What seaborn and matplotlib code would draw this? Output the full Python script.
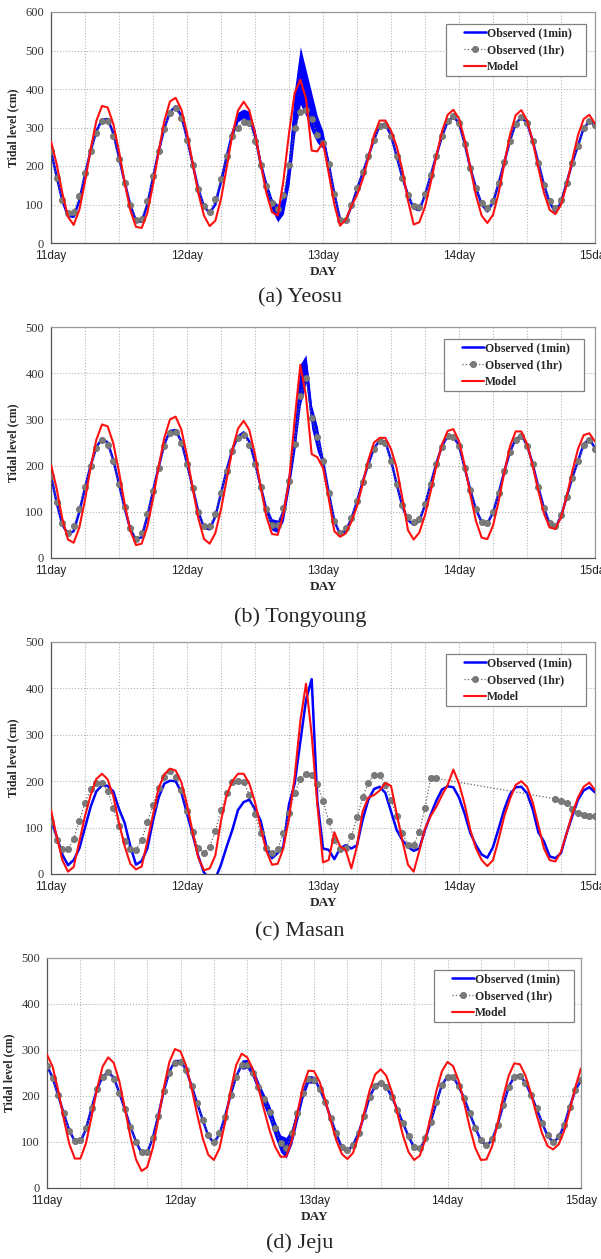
import numpy as np
import pandas as pd
import matplotlib
matplotlib.use('Agg')
import matplotlib.pyplot as plt
import seaborn as sns
from matplotlib.ticker import FixedLocator, MultipleLocator
from matplotlib.legend_handler import HandlerLine2D

sns.set_theme(style='white')
plt.rcParams['font.family'] = ['Liberation Serif', 'DejaVu Serif']

nan = np.nan
hours = np.arange(97)
days = 11 + hours / 24.0

# (a) Yeosu
yeosu_1min = [240, 172, 110, 70, 68, 110, 178, 240, 290, 320, 322, 285,
              222, 158, 98, 58, 55, 100, 170, 238, 298, 340, 355, 330,
              272, 205, 140, 95, 78, 100, 160, 225, 285, 325, 338, 330,
              280, 205, 145, 100, 78, 95, 180, 330, 430, 400, 340, 300,
              268, 206, 128, 62, 57, 95, 140, 182, 225, 268, 305, 308,
              280, 225, 170, 125, 90, 85, 125, 175, 227, 277, 316, 328,
              312, 258, 195, 143, 100, 82, 105, 155, 210, 266, 310, 326,
              312, 266, 208, 151, 105, 80, 105, 157, 208, 253, 298, 316,
              307]
yeosu_1hr = [238, 170, 111, 78, 80, 121, 182, 240, 287, 317, 317, 278,
             219, 156, 98, 61, 63, 108, 173, 238, 296, 337, 350, 324,
             268, 203, 140, 95, 80, 114, 167, 225, 277, 300, 313, 311,
             264, 203, 147, 104, 88, 125, 203, 298, 341, 346, 322, 281,
             260, 206, 128, 61, 59, 98, 143, 184, 226, 268, 304, 307,
             278, 225, 170, 125, 95, 93, 127, 176, 227, 277, 316, 329,
             311, 258, 195, 143, 105, 92, 110, 156, 210, 266, 310, 326,
             311, 266, 208, 151, 108, 91, 112, 157, 208, 253, 298, 316,
             307]
yeosu_model = [264, 205, 130, 68, 47, 86, 159, 244, 317, 356, 352, 309,
               238, 157, 85, 42, 39, 78, 151, 238, 317, 368, 377, 347,
               286, 207, 129, 71, 44, 58, 114, 196, 281, 344, 367, 345,
               285, 206, 130, 80, 71, 160, 285, 390, 424, 375, 240, 238,
               262, 182, 100, 45, 60, 95, 125, 165, 220, 280, 318, 318,
               292, 251, 190, 110, 48, 54, 94, 156, 226, 290, 333, 346,
               323, 268, 195, 123, 71, 52, 73, 130, 206, 281, 332, 345,
               319, 265, 195, 130, 86, 75, 99, 151, 217, 280, 322, 333,
               310]
yeosu_band_start = 30
yeosu_band_lo = [150, 215, 275, 315, 325, 315, 265, 195, 135, 85, 55, 75,
                 150, 280, 360, 330, 290, 260, 245, 200]
yeosu_band_hi = [170, 235, 295, 340, 348, 342, 295, 215, 160, 115, 100, 120,
                 230, 400, 510, 450, 390, 330, 290, 212]

# (b) Tongyoung
tong_1min = [178, 120, 72, 52, 58, 100, 152, 200, 240, 258, 250, 212,
             160, 108, 62, 40, 45, 90, 145, 197, 246, 275, 277, 252,
             205, 152, 100, 66, 62, 90, 140, 190, 235, 263, 272, 252,
             207, 155, 105, 72, 65, 95, 165, 250, 380, 420, 305, 260,
             210, 142, 80, 52, 58, 85, 122, 165, 203, 237, 255, 252,
             212, 160, 112, 82, 72, 80, 115, 160, 205, 242, 264, 262,
             244, 195, 147, 105, 78, 75, 98, 140, 188, 230, 257, 265,
             245, 204, 153, 108, 74, 65, 90, 132, 174, 210, 246, 258,
             238]
tong_1hr = [177, 121, 76, 54, 69, 106, 154, 200, 238, 256, 245, 209,
            160, 110, 65, 42, 54, 95, 146, 195, 243, 271, 273, 249,
            203, 152, 100, 69, 69, 95, 141, 188, 231, 260, 266, 245,
            203, 153, 105, 72, 71, 108, 167, 247, 351, 390, 303, 262,
            209, 141, 81, 54, 65, 87, 123, 164, 201, 236, 254, 249,
            211, 160, 115, 88, 78, 85, 117, 160, 203, 240, 263, 261,
            243, 195, 148, 106, 79, 76, 100, 141, 188, 229, 256, 263,
            243, 203, 153, 108, 76, 69, 94, 133, 173, 209, 245, 256,
            236]
tong_model = [202, 150, 85, 40, 33, 66, 126, 196, 256, 289, 285, 248,
              186, 117, 59, 28, 31, 68, 128, 198, 260, 300, 306, 278,
              221, 151, 86, 41, 31, 54, 105, 170, 234, 280, 297, 277,
              224, 154, 90, 52, 50, 95, 165, 300, 418, 350, 225, 218,
              195, 130, 58, 46, 53, 78, 112, 160, 212, 250, 260, 260,
              236, 195, 130, 60, 40, 55, 93, 144, 199, 246, 275, 279,
              253, 201, 137, 80, 44, 41, 70, 123, 186, 242, 274, 274,
              247, 200, 145, 96, 66, 63, 88, 133, 188, 236, 266, 270,
              252]
tong_band_start = 38
tong_band_lo = [100, 60, 55, 80, 150, 230, 330, 380, 280, 230, 200]
tong_band_hi = [112, 85, 82, 110, 180, 275, 420, 440, 330, 285, 215]

# (c) Masan
masan_1min = [117, 81, 42, 19, 30, 55, 100, 145, 178, 191, 190, 178,
              140, 110, 60, 20, 28, 55, 115, 165, 195, 201, 200, 176,
              130, 85, 38, 3, -10, -10, 20, 59, 95, 138, 155, 160,
              140, 115, 60, 34, 45, 59, 150, 195, 285, 375, 420, 158,
              55, 52, 32, 55, 62, 55, 62, 117, 160, 183, 188, 175,
              135, 95, 73, 58, 50, 55, 95, 128, 158, 182, 189, 187,
              165, 130, 88, 62, 42, 35, 58, 98, 140, 172, 187, 188,
              174, 140, 90, 70, 38, 34, 45, 88, 125, 160, 180, 187,
              176]
masan_1hr = [111, 73, 53, 53, 76, 114, 154, 183, 196, 197, 178, 143,
             104, 72, 53, 52, 73, 111, 149, 185, 210, 221, 210, 180,
             136, 91, 57, 46, 59, 93, 137, 174, 198, 201, 198, 171,
             129, 88, 55, 45, 53, 88, 132, 174, 204, 215, 214, 194,
             158, 114, 73, 53, 55, 81, 122, 165, 197, 214, 214, 192,
             160, 124, 88, 63, 63, 91, 143, 206, 206, nan, nan, nan,
             nan, nan, nan, nan, nan, nan, nan, nan, nan, nan, nan, nan,
             nan, nan, nan, nan, nan, 162, 158, 153, 141, 132, 127, 124,
             124]
masan_model = [138, 81, 30, 5, 15, 70, 125, 170, 205, 216, 204, 167,
               110, 60, 22, 10, 16, 70, 128, 185, 215, 227, 223, 198,
               150, 90, 35, 8, 12, 40, 115, 170, 200, 216, 216, 195,
               155, 100, 50, 20, 22, 55, 120, 210, 330, 410, 300, 150,
               25, 30, 90, 60, 52, 12, 60, 135, 165, 170, 180, 196,
               190, 130, 72, 20, 5, 50, 98, 125, 145, 170, 192, 225,
               195, 150, 95, 55, 30, 17, 30, 75, 125, 162, 192, 200,
               188, 155, 105, 55, 30, 27, 48, 88, 130, 165, 188, 197,
               181]

# (d) Jeju
jeju_1min = [266, 240, 202, 162, 125, 102, 100, 128, 173, 215, 242, 252,
             240, 207, 171, 133, 101, 76, 76, 108, 157, 211, 253, 276,
             276, 257, 222, 184, 148, 113, 98, 117, 155, 202, 242, 268,
             270, 250, 220, 192, 165, 128, 95, 85, 115, 160, 205, 237,
             238, 216, 188, 152, 118, 88, 80, 93, 119, 157, 198, 222,
             230, 220, 198, 170, 141, 112, 88, 84, 106, 144, 186, 224,
             242, 242, 221, 195, 162, 131, 103, 92, 104, 137, 180, 220,
             242, 245, 229, 203, 173, 142, 113, 100, 110, 137, 177, 213,
             234]
jeju_1hr = [266, 240, 202, 162, 125, 103, 105, 130, 173, 215, 242, 253,
            238, 207, 171, 133, 101, 79, 79, 108, 157, 211, 251, 272,
            274, 256, 222, 184, 148, 115, 100, 119, 155, 202, 242, 267,
            267, 249, 220, 193, 166, 130, 97, 87, 119, 162, 206, 236,
            234, 216, 188, 152, 119, 90, 82, 94, 119, 157, 198, 222,
            229, 220, 198, 170, 141, 113, 90, 87, 108, 144, 186, 224,
            242, 242, 221, 195, 162, 131, 105, 94, 106, 137, 180, 220,
            242, 244, 229, 203, 173, 142, 115, 101, 112, 137, 177, 213,
            234]
jeju_model = [290, 264, 213, 151, 96, 64, 64, 97, 154, 216, 264, 284,
              272, 232, 173, 111, 62, 37, 45, 86, 149, 218, 274, 302,
              297, 266, 217, 160, 108, 72, 61, 86, 142, 211, 267, 292,
              284, 258, 218, 171, 126, 90, 68, 68, 103, 162, 220, 255,
              254, 231, 192, 147, 104, 74, 63, 76, 113, 163, 212, 247,
              258, 244, 209, 162, 114, 78, 61, 70, 105, 156, 211, 254,
              274, 265, 233, 185, 132, 87, 61, 62, 90, 140, 197, 244,
              271, 269, 245, 206, 160, 119, 91, 84, 95, 125, 170, 220,
              260]
jeju_band_start = 35
jeju_band_lo = [258, 260, 240, 208, 178, 148, 110, 78, 65, 95, 145, 195, 228, 228]
jeju_band_hi = [278, 280, 262, 232, 205, 180, 145, 115, 110, 130, 175, 215, 245, 243]

day_ticks = [11, 12, 13, 14, 15]
day_labels = ['11day', '12day', '13day', '14day', '15day']

panels = [
    dict(obs1=yeosu_1min, obs60=yeosu_1hr, model=yeosu_model, bs=yeosu_band_start,
         lo=yeosu_band_lo, hi=yeosu_band_hi, ymax=600, cap='(a) Yeosu',
         box=(51, 595, 12, 243), leg=(446, 24), capy=298),
    dict(obs1=tong_1min, obs60=tong_1hr, model=tong_model, bs=tong_band_start,
         lo=tong_band_lo, hi=tong_band_hi, ymax=500, cap='(b) Tongyoung',
         box=(51, 595, 327, 558), leg=(444, 339), capy=617),
    dict(obs1=masan_1min, obs60=masan_1hr, model=masan_model, bs=None,
         lo=None, hi=None, ymax=500, cap='(c) Masan',
         box=(51, 595, 642, 874), leg=(446, 654), capy=932),
    dict(obs1=jeju_1min, obs60=jeju_1hr, model=jeju_model, bs=jeju_band_start,
         lo=jeju_band_lo, hi=jeju_band_hi, ymax=500, cap='(d) Jeju',
         box=(47, 581, 958, 1188), leg=(434, 970), capy=1243),
]


# excel style legend key: short line sitting at the right end of the key box
class KeyHandler(HandlerLine2D):
    def get_xdata(self, legend, xdescent, ydescent, width, height, fontsize):
        x0 = -xdescent + 0.42 * width
        x1 = -xdescent + width
        return np.array([x0, x1]), np.array([(x0 + x1) / 2])


W, H = 601, 1259
fig = plt.figure(figsize=(W / 100, H / 100), dpi=100)

for p in panels:
    l, r, t, b = p['box']
    ax = fig.add_axes([l / W, 1 - b / H, (r - l) / W, (b - t) / H])

    if p['bs'] is not None:
        bh = np.arange(p['bs'], p['bs'] + len(p['lo']))
        ax.fill_between(11 + bh / 24.0, p['lo'], p['hi'], color='#0000ff', lw=0, zorder=2)

    sns.lineplot(x=days, y=p['obs1'], ax=ax, color='#0000ff', lw=1.8,
                 label='Observed (1min)', zorder=2)
    hr = pd.DataFrame({'day': days, 'level': p['obs60']}).dropna()
    sns.lineplot(data=hr, x='day', y='level', ax=ax, color='#666666', lw=0.9,
                 ls=':', marker='o', markersize=4.5, markerfacecolor='#7a7a7a',
                 markeredgecolor='#6a6a6a', markeredgewidth=0.5,
                 label='Observed (1hr)', zorder=3)
    sns.lineplot(x=days, y=p['model'], ax=ax, color='#ff1010', lw=1.5,
                 label='Model', zorder=4)

    ax.set_xlim(11, 15)
    ax.set_ylim(0, p['ymax'])
    ax.xaxis.set_major_locator(FixedLocator(day_ticks))
    ax.xaxis.set_minor_locator(MultipleLocator(0.25))
    ax.set_xticklabels(day_labels, family='Liberation Sans', fontsize=8.5, color='#222222')
    ax.yaxis.set_major_locator(MultipleLocator(100))
    for lab in ax.get_yticklabels():
        lab.set_fontsize(9)
        lab.set_color('#333333')
    ax.tick_params(axis='both', which='major', direction='out', length=3,
                   width=0.8, color='#555555', pad=2)
    ax.tick_params(axis='x', which='minor', length=0)
    ax.grid(True, axis='x', which='both', ls=':', lw=0.8, color='#b5b5b5')
    ax.grid(True, axis='y', which='major', ls=':', lw=0.8, color='#b5b5b5')
    ax.set_axisbelow(True)
    for s in ['left', 'bottom']:
        ax.spines[s].set_color('#555555')
        ax.spines[s].set_linewidth(0.9)
    for s in ['top', 'right']:
        ax.spines[s].set_color('#999999')
        ax.spines[s].set_linewidth(0.9)

    ax.set_xlabel('DAY', fontsize=9.5, fontweight='bold', labelpad=3)
    ax.set_ylabel('Tidal level (cm)', fontsize=8.5, fontweight='bold', labelpad=4)

    lx, ly = p['leg']
    lw_ax = 140 / (r - l)
    lh_ax = 52 / (b - t)
    top_ax = 1 - (ly - t) / (b - t)
    leg = ax.legend(loc='upper left',
                    bbox_to_anchor=((lx - l) / (r - l), top_ax - lh_ax, lw_ax, lh_ax),
                    mode='expand', borderaxespad=0, frameon=True, fancybox=False,
                    framealpha=1, edgecolor='#808080', handlelength=3.1,
                    handletextpad=0.1, labelspacing=0.42, borderpad=0.25,
                    handler_map={matplotlib.lines.Line2D: KeyHandler()},
                    prop={'family': 'Liberation Serif', 'weight': 'bold', 'size': 8.5})
    leg.get_frame().set_linewidth(0.9)

    fig.text(300 / W, 1 - p['capy'] / H, p['cap'], ha='center', va='center',
             fontsize=16, family='Liberation Serif')

fig.savefig('out.png', dpi=100)
